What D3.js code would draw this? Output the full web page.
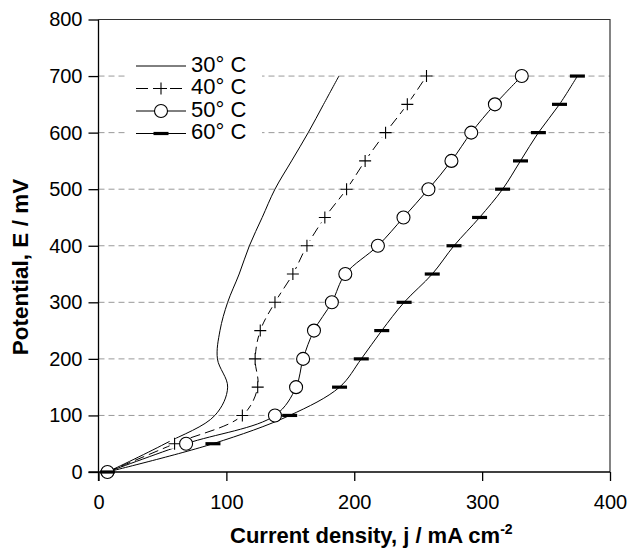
<!DOCTYPE html>
<html>
<head>
<meta charset="utf-8">
<script src="https://cdn.jsdelivr.net/npm/d3@7"></script>
<style>
    body { margin: 0; background: #fff; }
    svg { display: block; font-family: "Liberation Sans", Arial, sans-serif; }
</style>
</head>
<body>
<div id="chart"></div>
<script>
// Potential steps (mV) shared by all series
var potentials = [0, 50, 100, 150, 200, 250, 300, 350, 400, 450, 500, 550, 600, 650, 700];

// Current density (mA cm-2), one array per temperature
var j30 = [7, 52, 91, 101, 93, 95, 101, 110, 118, 128, 138, 151, 164, 176, 188];
var j40 = [7, 59.5, 112.5, 124.5, 122.5, 126.5, 138, 152, 163, 177, 194, 208.5, 224.5, 241.5, 256.5];
var j50 = [7, 68.5, 138, 154.5, 160, 168.5, 182.5, 193, 218.5, 238.5, 258, 276, 291.5, 310, 331];
var j60 = [7, 89.5, 149.5, 188.5, 205.5, 221.5, 239, 261, 278, 298, 316, 330, 344, 360.5, 374.5];

var legendLabels = ["30° C", "40° C", "50° C", "60° C"];
var xTicks = [0, 100, 200, 300, 400];
var yTicks = [0, 100, 200, 300, 400, 500, 600, 700, 800];
var gridTicks = [100, 200, 300, 400, 500, 600, 700];

var width = 628, height = 549;
var plotLeft = 98.5, plotRight = 610, plotTop = 19.5, plotBottom = 472;

var svg = d3.select("#chart")
    .append("svg")
    .attr("width", width)
    .attr("height", height);

var x = d3.scaleLinear().domain([0, 400]).range([plotLeft, plotRight]);
var y = d3.scaleLinear().domain([0, 800]).range([plotBottom, plotTop]);

// dashed horizontal grid
svg.selectAll(".grid")
    .data(gridTicks)
    .enter().append("line")
    .attr("class", "grid")
    .attr("x1", plotLeft)
    .attr("x2", plotRight)
    .attr("y1", d => y(d))
    .attr("y2", d => y(d))
    .style("stroke", "#9a9a9a")
    .style("stroke-width", 1)
    .style("stroke-dasharray", "6,4");

// frame top + right
svg.append("path")
    .attr("d", "M" + plotLeft + "," + plotTop + "H" + plotRight + "V" + plotBottom)
    .style("fill", "none")
    .style("stroke", "#333")
    .style("stroke-width", 1.2);

// axes
var xAxis = svg.append("g")
    .attr("transform", "translate(0," + plotBottom + ")")
    .call(d3.axisBottom(x).tickValues(xTicks).tickSize(9).tickPadding(14).tickFormat(d3.format("d")));
var yAxis = svg.append("g")
    .attr("transform", "translate(" + plotLeft + ",0)")
    .call(d3.axisLeft(y).tickValues(yTicks).tickSize(10).tickPadding(6).tickFormat(d3.format("d")));

[xAxis, yAxis].forEach(function(g) {
    g.select(".domain").remove();
    g.selectAll("line").style("stroke", "#000").style("stroke-width", 1.3);
    g.selectAll("text")
        .style("font-family", "'Liberation Sans', Arial, sans-serif")
        .style("font-size", "20px")
        .style("fill", "#000");
});

// axis lines (y line runs down through the tick length)
svg.append("line")
    .attr("x1", plotLeft).attr("x2", plotLeft)
    .attr("y1", plotTop).attr("y2", plotBottom + 9)
    .style("stroke", "#000").style("stroke-width", 1.3);
svg.append("line")
    .attr("x1", plotLeft - 10).attr("x2", plotRight)
    .attr("y1", plotBottom).attr("y2", plotBottom)
    .style("stroke", "#000").style("stroke-width", 1.3);

// build series
var series = [j30, j40, j50, j60].map(function(arr) {
    return potentials.map(function(p, k) { return { E: p, j: arr[k] }; });
});

var line = d3.line()
    .x(d => x(d.j))
    .y(d => y(d.E))
    .curve(d3.curveCatmullRom.alpha(0.5));

svg.selectAll(".curve")
    .data(series)
    .enter().append("path")
    .attr("class", "curve")
    .attr("d", line)
    .style("fill", "none")
    .style("stroke", "#000")
    .style("stroke-width", 1)
    .style("stroke-dasharray", (d, i) => i === 1 ? "10,5" : null);

// markers
function drawPlus(g, cx, cy) {
    g.append("rect")
        .attr("x", cx - 5).attr("y", cy - 5)
        .attr("width", 10).attr("height", 10)
        .style("fill", "#fff");
    g.append("path")
        .attr("d", "M" + (cx - 6) + "," + cy + "H" + (cx + 6) + "M" + cx + "," + (cy - 6) + "V" + (cy + 6))
        .style("stroke", "#000")
        .style("stroke-width", 1.1);
}
function drawCircle(g, cx, cy) {
    g.append("circle")
        .attr("cx", cx).attr("cy", cy).attr("r", 6.5)
        .style("fill", "#fff")
        .style("stroke", "#000")
        .style("stroke-width", 1.1);
}
function drawDash(g, cx, cy) {
    g.append("line")
        .attr("x1", cx - 7.5).attr("x2", cx + 7.5)
        .attr("y1", cy).attr("y2", cy)
        .style("stroke", "#000")
        .style("stroke-width", 3.2);
}

var markers = svg.append("g");
series[1].forEach(d => drawPlus(markers, x(d.j), y(d.E)));
series[2].forEach(d => drawCircle(markers, x(d.j), y(d.E)));
series[3].forEach(d => drawDash(markers, x(d.j), y(d.E)));

// legend
var legend = svg.append("g");
legend.append("rect")
    .attr("x", 128).attr("y", 50)
    .attr("width", 134).attr("height", 96)
    .style("fill", "#fff");

legendLabels.forEach(function(label, i) {
    var ly = 66 + i * 22.5;
    legend.append("line")
        .attr("x1", 136).attr("x2", 186)
        .attr("y1", ly).attr("y2", ly)
        .style("stroke", "#000")
        .style("stroke-width", 1)
        .style("stroke-dasharray", i === 1 ? "12,5" : null);
    if (i === 1) drawPlus(legend, 161, ly);
    if (i === 2) drawCircle(legend, 161, ly);
    if (i === 3) drawDash(legend, 161, ly);
    legend.append("text")
        .attr("x", 191)
        .attr("y", ly + 5.5)
        .style("font-size", "22px")
        .text(label);
});

// axis titles
var xTitle = svg.append("text")
    .attr("x", 230)
    .attr("y", 543)
    .style("font-size", "22px")
    .style("font-weight", "bold");
xTitle.append("tspan").text("Current density, j / mA cm");
xTitle.append("tspan")
    .attr("dy", -9)
    .style("font-size", "14px")
    .text("-2");

svg.append("text")
    .attr("transform", "translate(28,267) rotate(-90)")
    .attr("text-anchor", "middle")
    .style("font-size", "22.5px")
    .style("font-weight", "bold")
    .text("Potential, E / mV");
</script>
</body>
</html>
